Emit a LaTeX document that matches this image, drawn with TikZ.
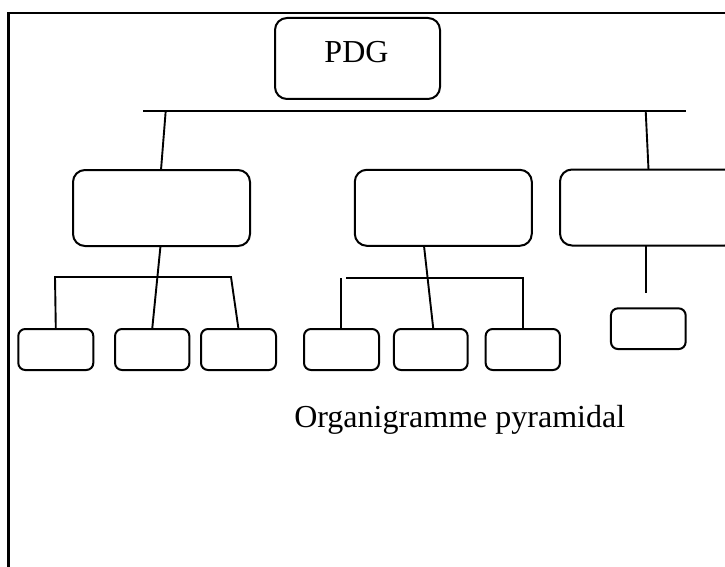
\documentclass[tikz,border=0pt]{standalone}
\usepackage{fontspec}
\setmainfont{Liberation Serif}
\begin{document}
\begin{tikzpicture}[x=1pt,y=-1pt,
  line width=2pt,
  bigbox/.style={draw, rounded corners=12pt, inner sep=0pt, outer sep=0pt,
    minimum width=177pt, minimum height=76pt},
  smallbox/.style={draw, rounded corners=7pt, inner sep=0pt, outer sep=0pt,
    minimum width=75pt, minimum height=41pt},
  link/.style={draw, line width=1.9pt},
  label/.style={inner sep=0pt, font=\fontsize{32}{38}\selectfont}]
\useasboundingbox (0,0) rectangle (725,567);
\clip (0,0) rectangle (725,567);

% page frame (runs past the right and bottom edges)
\draw[line width=2.6pt] (8.5,13) rectangle (760,600);

% top box
\node[bigbox, minimum width=165pt, minimum height=81pt] (pdg) at (357.5,58.5) {};
\node[label, anchor=base] (pdgtxt) at (356.5,63) {PDG};

% second level
\node[bigbox] (m1) at (161.5,208) {};
\node[bigbox] (m2) at (443.3,207.8) {};
\node[bigbox] (m3) at (648.5,207.5) {};

% third level
\node[smallbox] (b1) at (55.8,349.5) {};
\node[smallbox, minimum width=74.3pt] (b2) at (152.2,349.5) {};
\node[smallbox] (b3) at (238.5,349.5) {};
\node[smallbox] (b4) at (341.5,349.5) {};
\node[smallbox, minimum width=73.7pt] (b5) at (430.8,349.5) {};
\node[smallbox, minimum width=74.3pt] (b6) at (522.8,349.5) {};
\node[smallbox, minimum width=74.7pt, minimum height=40.7pt] (s1) at (648.3,328.7) {};

% main horizontal bar
\coordinate (barL) at (143,111);
\coordinate (barR) at (685.7,111);
\coordinate (bar1) at (165.7,111);
\coordinate (bar3) at (645.7,111);
\draw[link] (barL) -- (barR);
\draw[link] (bar1) -- ([xshift=-0.5pt]m1.north);
\draw[link] (bar3) -- (m3.north);

% first group
\coordinate (g1L) at (55,277);
\coordinate (g1R) at (231,277);
\draw[link] (b1.north) -- (g1L) -- (g1R) -- (b3.north);
\draw[link] ([xshift=-1pt]m1.south) -- (b2.north);

% second group
\coordinate (g2L) at (346,277.7);
\coordinate (g2R) at (523.3,277.7);
\coordinate (g2D) at (341,278.3);
\draw[link] (g2L) -- (g2R) -- ([xshift=0.5pt]b6.north);
\draw[link] (g2D) -- ([xshift=-0.5pt]b4.north);
\draw[link] ([xshift=-19.3pt]m2.south) -- ([xshift=2.5pt]b5.north);

% third group
\coordinate (g3end) at (646,292.7);
\draw[link] ([xshift=-2.5pt]m3.south) -- (g3end);

% caption
\node[label, anchor=base west] (caption) at (293.3,427.3) {Organigramme pyramidal};
\end{tikzpicture}
\end{document}
